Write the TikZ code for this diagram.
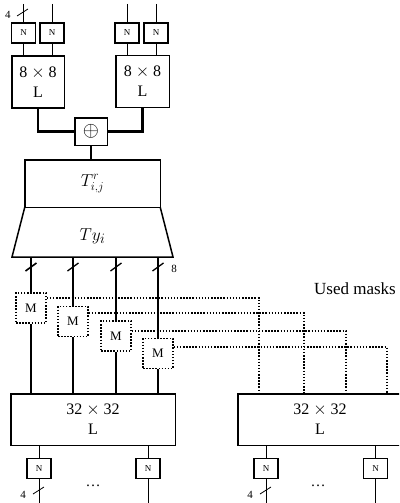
\documentclass[tikz,border=0pt]{standalone}
\usepackage{fontspec}
\setmainfont{Liberation Serif}
\usetikzlibrary{calc}
\begin{document}
\begin{tikzpicture}[x=1pt,y=-1pt,
  nbox/.style={draw,line width=1.5pt,minimum width=24pt,minimum height=20pt,inner sep=0pt,font=\fontsize{9}{9}\selectfont},
  lbox/.style={draw,line width=1.5pt,inner sep=0pt,align=center,font=\fontsize{16}{20}\selectfont},
  mbox/.style={draw,line width=1.5pt,dash pattern=on 1.5pt off 1.6pt,minimum width=30pt,minimum height=30pt,inner sep=0pt,font=\fontsize{13}{13}\selectfont},
  wire/.style={line width=0.8pt},
  bus/.style={line width=2.6pt},
  lane/.style={line width=1.4pt},
  maskwire/.style={line width=1.5pt,dash pattern=on 1.5pt off 1.6pt},
  tick/.style={line width=1.3pt},
  lbl/.style={font=\fontsize{11}{11}\selectfont,inner sep=0pt}]
\useasboundingbox (0,0) rectangle (399,503);
\clip (0,0) rectangle (399,503);

% top N boxes and 8x8 blocks
\node[nbox] (n1) at (23.5,33) {N};
\node[nbox] (n2) at (52,33) {N};
\node[nbox] (n3) at (127,33) {N};
\node[nbox] (n4) at (156,33) {N};
\node[lbox,minimum width=52.5pt,minimum height=51.5pt] (la) at (38,82) {8 $\times$ 8\\L};
\node[lbox,minimum width=53.5pt,minimum height=52pt] (lb) at (142.5,81.5) {8 $\times$ 8\\L};
\coordinate (i1) at (23.5,4);
\coordinate (i2) at (52,4);
\coordinate (i3) at (127,4);
\coordinate (i4) at (156,4);
\foreach \k in {1,2,3,4} {\draw[wire] (i\k) -- (n\k);}
\draw[wire] (n1) -- (n1 |- la.north);
\draw[wire] (n2) -- (n2 |- la.north);
\draw[wire] (n3) -- (n3 |- lb.north);
\draw[wire] (n4) -- (n4 |- lb.north);
\node[lbl] (four1) at (8,15) {4};
\draw[wire] (17,16) -- (28,9);

% XOR
\node[draw,line width=1.5pt,minimum width=32.5pt,minimum height=27.5pt,inner sep=0pt] (x) at (91,131.5) {\fontsize{22}{22}\selectfont$\oplus$};
\draw[bus] (la.south) |- (x.west);
\draw[bus] (lb.south) |- (x.east);

% T and Ty
\node[lbox,minimum width=135.5pt,minimum height=47.5pt,font=\fontsize{18}{18}\selectfont] (T) at (92.5,183.5) {$T^{r}_{i,j}$};
\draw[bus] (x.south) -- (x.south |- T.north);
\coordinate (tc) at (173,257);
\coordinate (td) at (12,257);
\draw[line width=1.5pt] ([xshift=0.75pt,yshift=0.75pt]T.south west) -- (td) -- (tc) -- ([xshift=-0.75pt,yshift=0.75pt]T.south east);
\node[font=\fontsize{19}{19}\selectfont] (ty) at (92.5,236) {$Ty_i$};

% lanes
\coordinate (o1) at (31,257);
\coordinate (o2) at (73,257);
\coordinate (o3) at (116,257);
\coordinate (o4) at (158,257);
\node[mbox] (M1) at (31,308) {M};
\node[mbox] (M2) at (73,321.5) {M};
\node[mbox] (M3) at (116,336) {M};
\node[mbox] (M4) at (158,353.5) {M};
\node[lbox,minimum width=164.5pt,minimum height=51.5pt] (B1) at (93,419.5) {32 $\times$ 32\\L};
\node[lbox,minimum width=164.5pt,minimum height=51.5pt] (B2) at (320,419.5) {32 $\times$ 32\\L};
\draw[bus] (o1) -- (M1);
\draw[bus] (M1) -- (M1 |- B1.north);
\foreach \k in {2,3,4} {
  \draw[lane] (o\k) -- (M\k);
  \draw[lane] (M\k) -- (M\k |- B1.north);
}
\draw[bus,line width=1.6pt] ($(o1)+(-5.5,14)$) -- ++(11,-8);
\foreach \k in {2,3,4} {\draw[tick] ($(o\k)+(-5.5,14)$) -- ++(11,-8);}
\node[lbl] (eight) at (174,269) {8};

% used masks
\node[font=\fontsize{17}{17}\selectfont,inner sep=0pt] (used) at (355,289) {Used masks};
\coordinate (d1) at ([xshift=22pt]B2.north west);
\coordinate (d2) at ([xshift=67pt]B2.north west);
\coordinate (d3) at ([xshift=109pt]B2.north west);
\coordinate (d4) at ([xshift=150pt]B2.north west);
\draw[maskwire] ([yshift=10pt]M1.east) -| (d1);
\draw[maskwire] ([yshift=8.5pt]M2.east) -| (d2);
\draw[maskwire] ([yshift=5pt]M3.east) -| (d3);
\draw[maskwire] ([yshift=6.5pt]M4.east) -| (d4);

% bottom N boxes
\node[nbox] (n5) at (39,468.5) {N};
\node[nbox] (n6) at (148,468.5) {N};
\node[nbox] (n7) at (266,468.5) {N};
\node[nbox] (n8) at (375.5,468.5) {N};
\coordinate (e5) at (39,504);
\coordinate (e6) at (148,504);
\coordinate (e7) at (266,504);
\coordinate (e8) at (375.5,504);
\draw[wire] (n5 |- B1.south) -- (n5);
\draw[wire] (n6 |- B1.south) -- (n6);
\draw[wire] (n7 |- B2.south) -- (n7);
\draw[wire] (n8 |- B2.south) -- (n8);
\foreach \k in {5,6,7,8} {\draw[wire] (n\k) -- (e\k);}
\node[font=\fontsize{15}{15}\selectfont,anchor=base,inner sep=0pt] (dd1) at (93,486) {\dots};
\node[font=\fontsize{15}{15}\selectfont,anchor=base,inner sep=0pt] (dd2) at (318,486) {\dots};
\node[lbl] (four2) at (23,495) {4};
\node[lbl] (four3) at (250,495) {4};
\draw[wire] (33,494) -- (44,487);
\draw[wire] (260,494) -- (271,487);
\end{tikzpicture}
\end{document}
